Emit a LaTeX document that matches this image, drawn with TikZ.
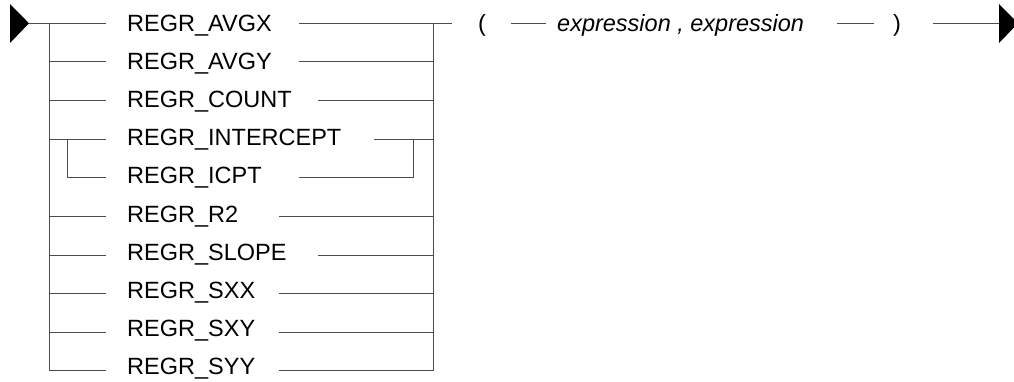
\documentclass[tikz,border=0pt]{standalone}
\usepackage{fontspec}
\setmainfont{Liberation Sans}
\usepackage{tikz}
\usetikzlibrary{calc}

\tikzset{
  rail/.style={line width=1pt,draw=black!70},
  kw/.style={anchor=base west,inner sep=0pt,font=\fontsize{23.5}{28}\selectfont},
  kwit/.style={kw,font=\fontsize{23.5}{28}\selectfont\itshape}
}

\begin{document}
\begin{tikzpicture}[x=1pt,y=-1pt]
  \useasboundingbox (0,0) rectangle (1014,381);

  \coordinate (s) at (29,23.3);
  \fill (10,4) -- (s) -- (10,43) -- cycle;

  \foreach \i/\txt/\xl/\xr/\xb in {0/REGR\_AVGX/49/299/433,1/REGR\_AVGY/49/299/433,
      2/REGR\_COUNT/49/318/433,3/REGR\_INTERCEPT/49/374/433,4/REGR\_ICPT/67/299/413,
      5/REGR\_R2/49/279/433,6/REGR\_SLOPE/49/318/433,7/REGR\_SXX/49/279/433,
      8/REGR\_SXY/49/279/433,9/REGR\_SYY/49/279/433}{
    \node[kw] (n\i) at (127,{31+38.2*\i}) {\txt};
    \coordinate (a\i) at (\xl,{23.3+38.63*\i});
    \coordinate (d\i) at (106,{23.3+38.63*\i});
    \coordinate (b\i) at (\xr,{23.3+38.63*\i});
    \coordinate (c\i) at (\xb,{23.3+38.63*\i});
    \draw[rail] (a\i) -- (d\i);
    \draw[rail] (b\i) -- (c\i);
  }

  \draw[rail] (s) -- (a0);
  \draw[rail] (a0) -- (a9);
  \draw[rail] (c0) -- (c9);
  \draw[rail] (a4) -- (a4 |- a3);
  \draw[rail] (c4) -- (c4 |- c3);

  \coordinate (e0) at (452,23.3);
  \draw[rail] (c0) -- (e0);
  \node[kw] (lp) at (478,31) {(};
  \coordinate (f1) at (511,23.3);
  \coordinate (f2) at (546,23.3);
  \draw[rail] (f1) -- (f2);
  \node[kwit] (ex) at (557,31) {expression , expression};
  \coordinate (g1) at (837,23.3);
  \coordinate (g2) at (874,23.3);
  \draw[rail] (g1) -- (g2);
  \node[kw] (rp) at (893,31) {)};
  \coordinate (h) at (933,23.3);
  \coordinate (t) at (999,23.3);
  \draw[rail] (h) -- (t);
  \fill (t |- 0,4) -- (1018,23.3) -- (t |- 0,43) -- cycle;
\end{tikzpicture}
\end{document}
